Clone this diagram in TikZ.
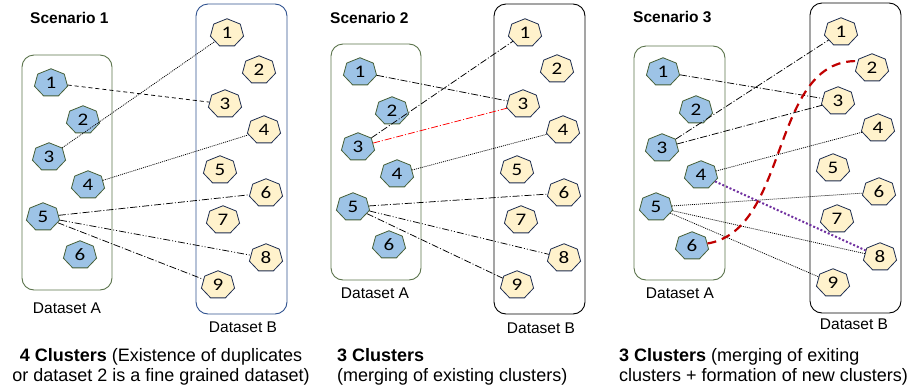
\documentclass[tikz,border=0pt]{standalone}
\usepackage{fontspec}
\setmainfont{Liberation Sans}
\newfontfamily\numfont{Carlito}
\usepackage{xcolor}
\usetikzlibrary{shapes.geometric}
\definecolor{nodeblue}{RGB}{157,195,230}
\definecolor{nodegreen}{RGB}{70,95,55}
\definecolor{nodeyellow}{RGB}{255,242,204}
\definecolor{nodenavy}{RGB}{30,45,80}
\definecolor{boxgreen}{RGB}{90,115,75}
\definecolor{boxblue}{RGB}{47,82,143}
\definecolor{darkred}{RGB}{192,0,0}
\definecolor{violet}{RGB}{112,48,160}

\begin{document}
\begin{tikzpicture}[x=1pt, y=-1pt,
        anode/.style={regular polygon, regular polygon sides=7, minimum size=34pt, inner sep=0pt,
            yscale=0.84, transform shape,
            draw=nodegreen, fill=nodeblue, line width=0.8pt, font=\numfont\fontsize{21}{21}\selectfont},
        bnode/.style={anode, draw=nodenavy, fill=nodeyellow},
        setbox/.style={rounded corners=12pt, line width=0.9pt},
        title/.style={anchor=west, inner sep=0pt, font=\bfseries\fontsize{15.5}{15.5}\selectfont},
        setname/.style={inner sep=0pt, font=\fontsize{15.5}{15.5}\selectfont},
        caption/.style={inner sep=0pt, font=\fontsize{18}{20}\selectfont},
        link/.style={line width=0.75pt, black},
        dashlink/.style={link, dash pattern=on 4pt off 3pt},
        dotlink/.style={link, dash pattern=on 1pt off 1pt},
        dashdot/.style={link, dash pattern=on 7pt off 2pt on 1pt off 2pt},
        dashdotdot/.style={link, dash pattern=on 7pt off 2pt on 1pt off 2pt on 1pt off 2pt}]
                                \useasboundingbox (0,0) rectangle (915,389);

                                \node[title] (t1) at (30,18) {Scenario 1};
                                \draw[setbox, draw=boxgreen] (22,55) rectangle (112,290);
                                \draw[setbox, draw=boxblue] (196,4) rectangle (287,314);
                                \node[setname] (la1) at (67,308) {Dataset A};
                                \node[setname] (lb1) at (243,327) {Dataset B};
                                \node[anode] (a1) at (51,83) {1};
                                \node[anode] (a2) at (83,120) {2};
                                \node[anode] (a3) at (49,157) {3};
                                \node[anode] (a4) at (88,185) {4};
                                \node[anode] (a5) at (43,217) {5};
                                \node[anode] (a6) at (80,255) {6};
                                \node[bnode] (b1) at (227,33) {1};
                                \node[bnode] (b2) at (259,70) {2};
                                \node[bnode] (b3) at (225,104) {3};
                                \node[bnode] (b4) at (264,130) {4};
                                \node[bnode] (b5) at (220,170) {5};
                                \node[bnode] (b6) at (266,193) {6};
                                \node[bnode] (b7) at (223,220) {7};
                                \node[bnode] (b8) at (266,258) {8};
                                \node[bnode] (b9) at (218,285) {9};
                                \draw[dashlink] (a1) -- (b3);
                                \draw[dotlink] (a3) -- (b1);
                                \draw[dotlink] (a4) -- (b4);
                                \draw[dashdot] (a5) -- (b6);
                                \draw[dashdotdot] (a5) -- (b8);
                                \draw[dashdot] (a5) -- (b9);
                                \node[caption, align=center] (c1) at (161,367) {\textbf{4 Clusters} (Existence of duplicates\\or dataset 2 is a fine grained dataset)};

                                \node[title] (t2) at (330,18) {Scenario 2};
                                \draw[setbox, draw=boxgreen] (331,44) rectangle (421,280);
                                \draw[setbox, draw=black] (494,4) rectangle (585,314);
                                \node[setname] (la2) at (375,293) {Dataset A};
                                \node[setname] (lb2) at (541,328) {Dataset B};
                                \node[anode] (p1) at (360,72) {1};
                                \node[anode] (p2) at (392,111) {2};
                                \node[anode] (p3) at (358,147) {3};
                                \node[anode] (p4) at (397,174) {4};
                                \node[anode] (p5) at (353,207) {5};
                                \node[anode] (p6) at (389,245) {6};
                                \node[bnode] (q1) at (525,33) {1};
                                \node[bnode] (q2) at (557,69) {2};
                                \node[bnode] (q3) at (523,104) {3};
                                \node[bnode] (q4) at (563,130) {4};
                                \node[bnode] (q5) at (517,170) {5};
                                \node[bnode] (q6) at (564,193) {6};
                                \node[bnode] (q7) at (521,220) {7};
                                \node[bnode] (q8) at (564,258) {8};
                                \node[bnode] (q9) at (517,285) {9};
                                \draw[dashdot] (p1) -- (q3);
                                \draw[dashdot] (p3) -- (q1);
                                \draw[dashdot, red] (p3) -- (q3);
                                \draw[dotlink] (p4) -- (q4);
                                \draw[dashdot] (p5) -- (q6);
                                \draw[dashdotdot] (p5) -- (q8);
                                \draw[dashdot] (p5) -- (q9);
                                \node[caption, align=left, anchor=west] (c2) at (337,367) {\textbf{3 Clusters}\\(merging of existing clusters)};

                                \node[title] (t3) at (633,17) {Scenario 3};
                                \draw[setbox, draw=boxgreen] (634,46) rectangle (725,280);
                                \draw[setbox, draw=black] (810,3) rectangle (901,313);
                                \node[setname] (la3) at (680,293) {Dataset A};
                                \node[setname] (lb3) at (854,324) {Dataset B};
                                \node[anode] (u1) at (663,72) {1};
                                \node[anode] (u2) at (696,110) {2};
                                \node[anode] (u3) at (662,148) {3};
                                \node[anode] (u4) at (701,175) {4};
                                \node[anode] (u5) at (656,207) {5};
                                \node[anode] (u6) at (692,246) {6};
                                \node[bnode] (v1) at (841,32) {1};
                                \node[bnode] (v2) at (872,68) {2};
                                \node[bnode] (v3) at (838,101) {3};
                                \node[bnode] (v4) at (878,128) {4};
                                \node[bnode] (v5) at (833,168) {5};
                                \node[bnode] (v6) at (879,192) {6};
                                \node[bnode] (v7) at (837,219) {7};
                                \node[bnode] (v8) at (880,257) {8};
                                \node[bnode] (v9) at (833,283) {9};
                                \draw[dashdot] (u1) -- (v3);
                                \draw[dashdot] (u3) -- (v1);
                                \draw[dashdot] (u3) -- (v3);
                                \draw[dotlink] (u4) -- (v4);
                                \draw[dotlink] (u5) -- (v6);
                                \draw[dotlink] (u5) -- (v8);
                                \draw[dotlink] (u5) -- (v9);
                                \draw[violet, line width=2pt, dash pattern=on 2pt off 2pt] (u4) -- (v8);
                                \draw[darkred, line width=2.2pt, dash pattern=on 9pt off 6pt] (u6) .. controls (790,230) and (770,59) .. (v2.150);
                                \node[caption, align=left, anchor=west] (c3) at (619,367) {\textbf{3 Clusters} (merging of exiting\\clusters + formation of new clusters)};
                            \end{tikzpicture}
\end{document}
